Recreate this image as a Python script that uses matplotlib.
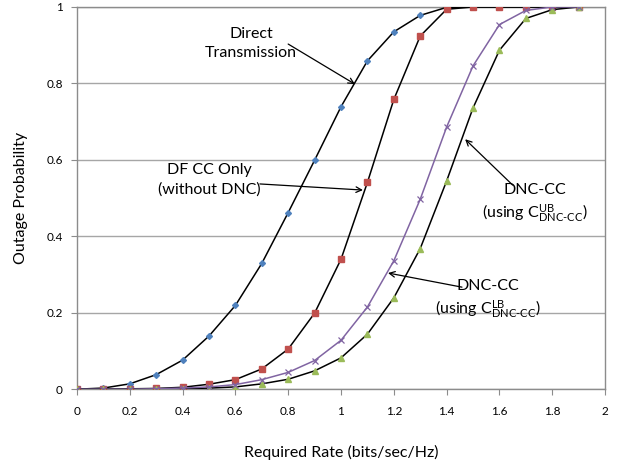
import matplotlib
matplotlib.use("Agg")
import matplotlib.pyplot as plt

plt.rcParams['font.family'] = ['Lato', 'DejaVu Sans']
plt.rcParams['mathtext.fontset'] = 'custom'
plt.rcParams['mathtext.rm'] = 'Lato'
plt.rcParams['mathtext.it'] = 'Lato:italic'
plt.rcParams['mathtext.bf'] = 'Lato:bold'

rate = [0.0, 0.1, 0.2, 0.3, 0.4, 0.5, 0.6, 0.7, 0.8, 0.9,
        1.0, 1.1, 1.2, 1.3, 1.4, 1.5, 1.6, 1.7, 1.8, 1.9]
direct = [0.0, 0.003, 0.014, 0.038, 0.076, 0.139, 0.219, 0.329, 0.462, 0.599,
          0.739, 0.859, 0.935, 0.978, 0.999, 1.0, 1.0, 1.0, 1.0, 1.0]
dfcc = [0.0, 0.0, 0.001, 0.002, 0.005, 0.013, 0.025, 0.053, 0.105, 0.199,
        0.340, 0.541, 0.758, 0.924, 0.994, 1.0, 1.0, 1.0, 1.0, 1.0]
dnc_lb = [0.0, 0.0, 0.0, 0.001, 0.003, 0.006, 0.012, 0.025, 0.044, 0.075,
          0.128, 0.215, 0.336, 0.497, 0.686, 0.846, 0.954, 0.991, 1.0, 1.0]
dnc_ub = [0.0, 0.0, 0.0, 0.0, 0.001, 0.003, 0.006, 0.014, 0.026, 0.048,
          0.082, 0.144, 0.239, 0.368, 0.545, 0.736, 0.887, 0.970, 0.993, 1.0]

fig = plt.figure(figsize=(6.2, 4.65), dpi=100)
ax = fig.add_axes([0.124, 0.163, 0.852, 0.822])

ax.plot(rate, direct, color='black', lw=1.1, marker='D', ms=3,
        mfc='#4F81BD', mec='#4F81BD', zorder=3)
ax.plot(rate, dfcc, color='black', lw=1.1, marker='s', ms=4.5,
        mfc='#C0504D', mec='#C0504D', zorder=3)
ax.plot(rate, dnc_ub, color='black', lw=1.1, marker='^', ms=4.5,
        mfc='#9BBB59', mec='#9BBB59', zorder=3)
ax.plot(rate, dnc_lb, color='#8064A2', lw=1.1, marker='x', ms=4,
        mfc='#8064A2', mec='#8064A2', mew=0.9, zorder=4)

ax.set_xlim(0, 2)
ax.set_ylim(0, 1)
ax.set_xticks([0, 0.2, 0.4, 0.6, 0.8, 1, 1.2, 1.4, 1.6, 1.8, 2])
ax.set_xticklabels(['0', '0.2', '0.4', '0.6', '0.8', '1', '1.2', '1.4', '1.6', '1.8', '2'])
ax.set_yticks([0, 0.2, 0.4, 0.6, 0.8, 1])
ax.set_yticklabels(['0', '0.2', '0.4', '0.6', '0.8', '1'])
ax.grid(axis='y', color='#A6A6A6', lw=1)
ax.set_axisbelow(True)
for s in ax.spines.values():
    s.set_color('#8C8C8C')
    s.set_linewidth(1)
ax.tick_params(axis='both', colors='#8C8C8C', labelcolor='black', labelsize=8.5,
               direction='out', length=4)
ax.tick_params(axis='x', pad=8)
ax.tick_params(axis='y', pad=6)

ax.set_xlabel('Required Rate (bits/sec/Hz)', fontsize=11.5, labelpad=20)
ax.set_ylabel('Outage Probability', fontsize=11.5, labelpad=13)

arrow = dict(arrowstyle='->', color='black', lw=0.9, shrinkA=0, shrinkB=0)
fs = 11.5
ax.annotate('', xy=(1.053, 0.798), xytext=(0.80, 0.903), arrowprops=arrow)
ax.text(0.66, 0.904, 'Direct\nTransmission', ha='center', va='center',
        fontsize=fs, linespacing=1.45)

ax.annotate('', xy=(1.083, 0.521), xytext=(0.693, 0.537), arrowprops=arrow)
ax.text(0.503, 0.547, 'DF CC Only\n(without DNC)', ha='center', va='center',
        fontsize=fs, linespacing=1.45)

ax.annotate('', xy=(1.47, 0.654), xytext=(1.65, 0.534), arrowprops=arrow)
ax.text(1.735, 0.522, 'DNC-CC', ha='center', va='center', fontsize=fs)
ax.text(1.735, 0.462, r'(using C$_{\mathrm{DNC\text{-}CC}}^{\mathrm{UB}}$)',
        ha='center', va='center', fontsize=fs)

ax.annotate('', xy=(1.178, 0.304), xytext=(1.458, 0.267), arrowprops=arrow)
ax.text(1.557, 0.270, 'DNC-CC', ha='center', va='center', fontsize=fs)
ax.text(1.557, 0.210, r'(using C$_{\mathrm{DNC\text{-}CC}}^{\mathrm{LB}}$)',
        ha='center', va='center', fontsize=fs)

fig.savefig('out.png', dpi=100)
